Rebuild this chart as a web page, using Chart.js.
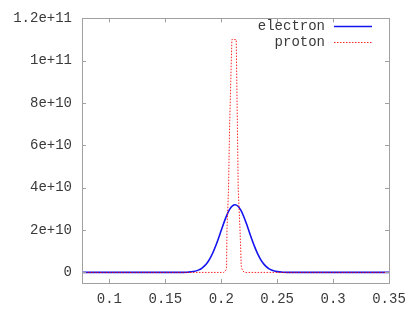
<!DOCTYPE html>
<html>
<head>
<meta charset="utf-8">
<script src="https://cdn.jsdelivr.net/npm/chart.js@4/dist/chart.umd.min.js"></script>
<style>
html,body{margin:0;padding:0;background:#fff;}
canvas{display:block;}
</style>
</head>
<body>
<canvas id="c" width="415" height="312"></canvas>
<script>
// ---- data ----
const electronX = [0.0755, 0.1, 0.15, 0.16, 0.165, 0.17, 0.175, 0.18, 0.1825, 0.185, 0.1875, 0.19, 0.1925, 0.195, 0.1975, 0.2, 0.2025, 0.205, 0.2075, 0.21, 0.2125, 0.215, 0.2175, 0.22, 0.2225, 0.225, 0.2275, 0.23, 0.2325, 0.235, 0.2375, 0.24, 0.2425, 0.245, 0.2475, 0.25, 0.255, 0.26, 0.265, 0.27, 0.3, 0.35];
const electronY = [0, 0, 0, 0.0006e10, 0.0028e10, 0.011e10, 0.04e10, 0.12e10, 0.195e10, 0.306e10, 0.461e10, 0.668e10, 0.93e10, 1.246e10, 1.605e10, 1.987e10, 2.365e10, 2.706e10, 2.976e10, 3.147e10, 3.2e10, 3.127e10, 2.939e10, 2.655e10, 2.306e10, 1.925e10, 1.546e10, 1.193e10, 0.885e10, 0.631e10, 0.433e10, 0.285e10, 0.181e10, 0.11e10, 0.065e10, 0.036e10, 0.01e10, 0.0025e10, 0.0005e10, 0, 0, 0];
const protonX = [0.0755, 0.15, 0.2, 0.2021, 0.2035, 0.2045, 0.2048, 0.2051, 0.2065, 0.2074, 0.2085, 0.2095, 0.2115, 0.2134, 0.2145, 0.2152, 0.2168, 0.2179, 0.219, 0.2205, 0.2215, 0.25, 0.35];
const protonY = [0, 0, 0, 0, 0.05e10, 0.15e10, 0.3e10, 2.0e10, 3.9e10, 6.7e10, 9.0e10, 11.0e10, 11.0e10, 11.0e10, 6.7e10, 3.9e10, 2.0e10, 0.3e10, 0.08e10, 0.02e10, 0, 0, 0];
const seriesNames = ['electron', 'proton'];
const xTicks = [0.1, 0.15, 0.2, 0.25, 0.3, 0.35];
const xTickLabels = ['0.1', '0.15', '0.2', '0.25', '0.3', '0.35'];
const yTicks = [0, 2e10, 4e10, 6e10, 8e10, 1e11, 1.2e11];
const yTickLabels = ['0', '2e+10', '4e+10', '6e+10', '8e+10', '1e+11', '1.2e+11'];
const xRange = [0.0755, 0.35];
const yRange = [-5e9, 1.2e11];

const FONT = "'Liberation Mono', 'DejaVu Sans Mono', monospace";
const AXIS_COLOR = '#a0a0a0';
const TEXT_COLOR = '#3a3a3a';

function pts(xs, ys) { return xs.map((x, i) => ({x: x, y: ys[i]})); }

// frame + inward mirrored ticks (gnuplot style)
const framePlugin = {
  id: 'frame',
  afterDatasetsDraw(chart) {
    const {ctx, chartArea: a, scales} = chart;
    ctx.save();
    ctx.strokeStyle = AXIS_COLOR;
    ctx.lineWidth = 1;
    ctx.strokeRect(Math.round(a.left) + 0.5, Math.round(a.top) + 0.5, Math.round(a.right - a.left), Math.round(a.bottom - a.top));
    const tl = 4;
    ctx.beginPath();
    xTicks.forEach(v => {
      const px = Math.round(scales.x.getPixelForValue(v)) + 0.5;
      ctx.moveTo(px, a.bottom); ctx.lineTo(px, a.bottom - tl);
      ctx.moveTo(px, a.top); ctx.lineTo(px, a.top + tl);
    });
    yTicks.forEach(v => {
      const py = Math.round(scales.y.getPixelForValue(v)) + 0.5;
      ctx.moveTo(a.left, py); ctx.lineTo(a.left + tl, py);
      ctx.moveTo(a.right, py); ctx.lineTo(a.right - tl, py);
    });
    ctx.stroke();
    ctx.restore();
  }
};

// gnuplot-like key: right-aligned label followed by line sample
const keyPlugin = {
  id: 'key',
  afterDraw(chart) {
    const {ctx, chartArea: a} = chart;
    ctx.save();
    ctx.font = '14px ' + FONT;
    ctx.fillStyle = TEXT_COLOR;
    ctx.textAlign = 'right';
    ctx.textBaseline = 'middle';
    chart.data.datasets.forEach((ds, i) => {
      const y = a.top + 8 + i * 16;
      const textRight = a.right - 64;
      ctx.fillText(ds.label, textRight, y);
      ctx.beginPath();
      ctx.strokeStyle = ds.borderColor;
      ctx.lineWidth = ds.borderWidth;
      ctx.setLineDash(ds.borderDash || []);
      ctx.moveTo(textRight + 9, Math.round(y) + 0.5);
      ctx.lineTo(textRight + 47, Math.round(y) + 0.5);
      ctx.stroke();
    });
    ctx.restore();
  }
};

new Chart(document.getElementById('c'), {
  type: 'line',
  data: {
    datasets: [
      {
        label: seriesNames[0],
        data: pts(electronX, electronY),
        borderColor: '#1414f0',
        borderWidth: 1.6,
        pointRadius: 0,
        fill: false,
        tension: 0,
        cubicInterpolationMode: 'monotone',
        order: 1
      },
      {
        label: seriesNames[1],
        data: pts(protonX, protonY),
        borderColor: 'rgba(250,0,0,0.85)',
        borderWidth: 1,
        borderDash: [1.5, 1.5],
        pointRadius: 0,
        fill: false,
        tension: 0,
        order: 0
      }
    ]
  },
  options: {
    responsive: false,
    devicePixelRatio: 1,
    animation: false,
    parsing: true,
    layout: {padding: {top: 18, right: 26, left: 0, bottom: 0}},
    plugins: {legend: {display: false}, tooltip: {enabled: false}},
    scales: {
      x: {
        type: 'linear',
        min: xRange[0],
        max: xRange[1],
        grid: {display: false, drawTicks: false},
        border: {display: false},
        afterBuildTicks: s => { s.ticks = xTicks.map(v => ({value: v})); },
        afterFit: s => { s.height = 29; },
        ticks: {
          padding: 8,
          maxRotation: 0,
          autoSkip: false,
          color: TEXT_COLOR,
          font: {family: FONT, size: 14},
          callback: (v) => { const i = xTicks.indexOf(v); return i >= 0 ? xTickLabels[i] : ''; }
        }
      },
      y: {
        type: 'linear',
        min: yRange[0],
        max: yRange[1],
        grid: {display: false, drawTicks: false},
        border: {display: false},
        afterBuildTicks: s => { s.ticks = yTicks.map(v => ({value: v})); },
        afterFit: s => { s.width = 82; },
        ticks: {
          padding: 10,
          autoSkip: false,
          color: TEXT_COLOR,
          font: {family: FONT, size: 14},
          callback: (v) => { const i = yTicks.indexOf(v); return i >= 0 ? yTickLabels[i] : ''; }
        }
      }
    }
  },
  plugins: [framePlugin, keyPlugin]
});
</script>
</body>
</html>
